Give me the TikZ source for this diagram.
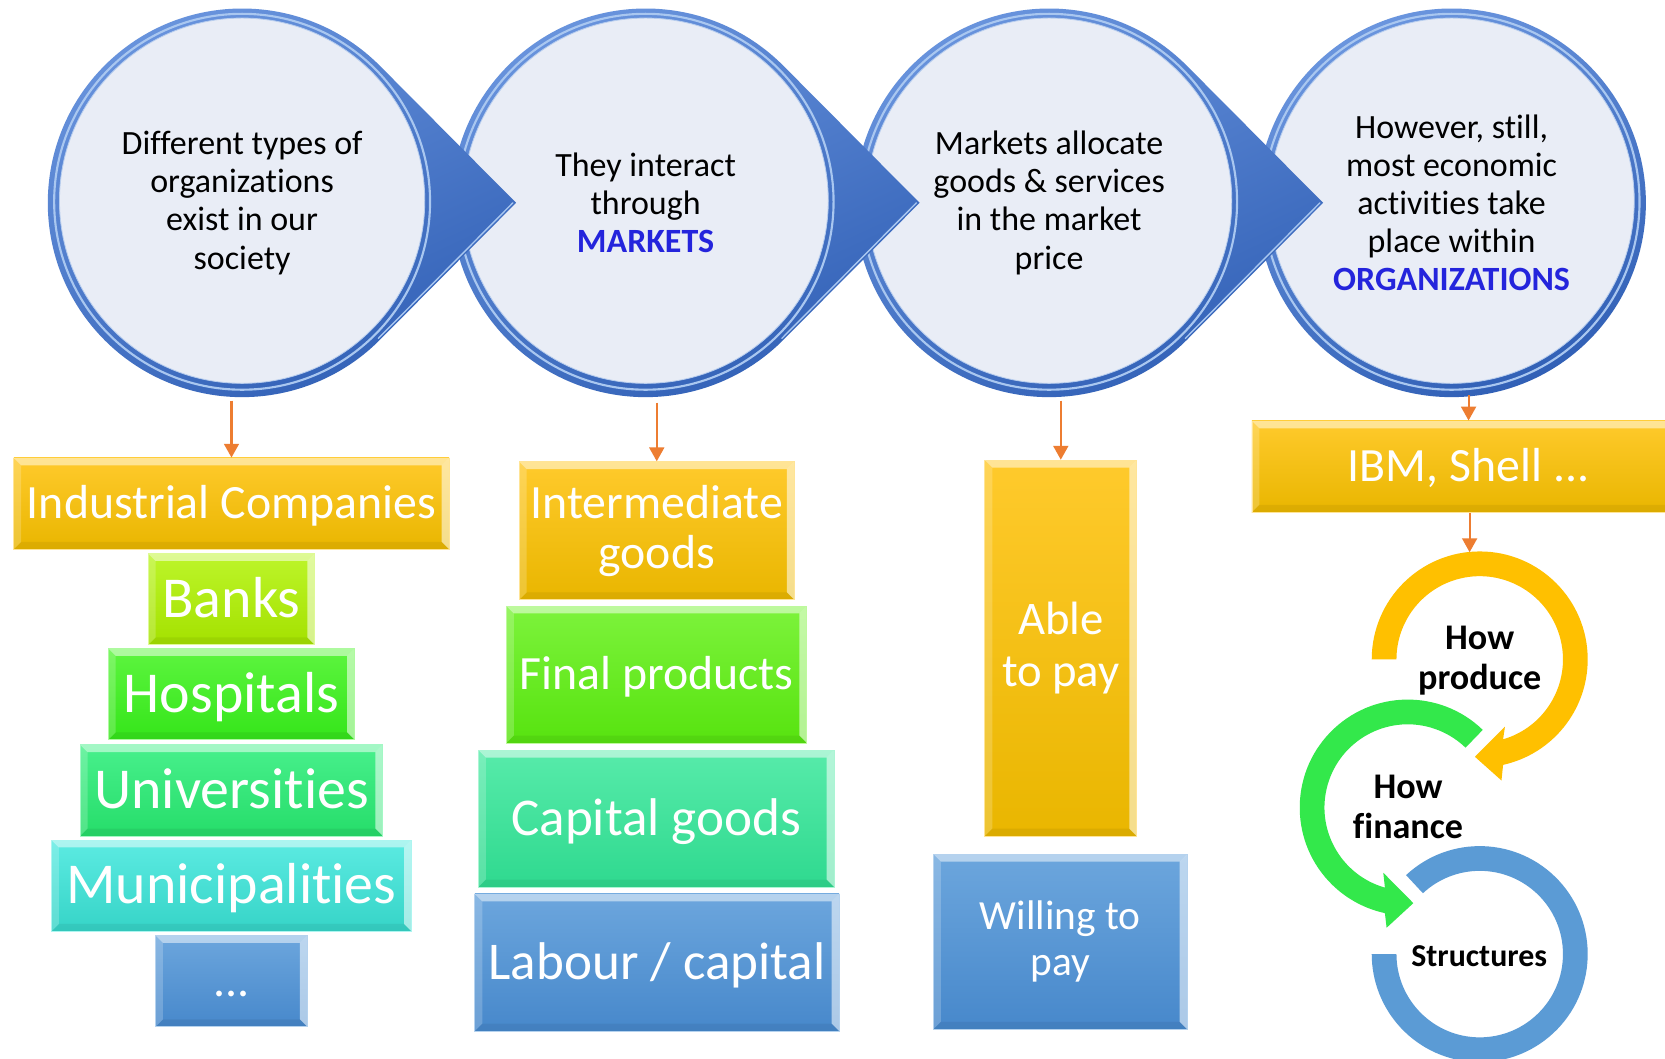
\documentclass[tikz,border=0pt]{standalone}
\usepackage{fontspec}
\setmainfont{Carlito}[Ligatures=NoCommon]
\usetikzlibrary{arrows.meta,calc}
\definecolor{kblue}{HTML}{2424DC}
\definecolor{ringA}{HTML}{6A95DE}
\definecolor{ringB}{HTML}{3160B6}
\definecolor{innerC}{HTML}{E9EDF6}
\definecolor{innerL}{HTML}{B7CDEE}
\definecolor{ringH}{HTML}{A9C7F0}
\definecolor{arrO}{HTML}{ED7D31}
\definecolor{oraT}{HTML}{FFCA2C}\definecolor{oraB}{HTML}{E9B600}
\definecolor{bnkT}{HTML}{BDF52A}\definecolor{bnkB}{HTML}{A4E100}
\definecolor{hosT}{HTML}{5DF53F}\definecolor{hosB}{HTML}{35E51A}
\definecolor{uniT}{HTML}{48F08C}\definecolor{uniB}{HTML}{26DD6A}
\definecolor{munT}{HTML}{5CEBE2}\definecolor{munB}{HTML}{36D4C7}
\definecolor{bluT}{HTML}{6CA6DD}\definecolor{bluB}{HTML}{4788CB}
\definecolor{finT}{HTML}{7DF33C}\definecolor{finB}{HTML}{57E30F}
\definecolor{capT}{HTML}{57EBAA}\definecolor{capB}{HTML}{2FD98F}
\definecolor{cycY}{HTML}{FFC000}
\definecolor{cycG}{HTML}{33E84B}
\definecolor{cycB}{HTML}{5B9BD5}
\newcommand\fsA{\fontsize{45}{47}\selectfont}
\newcommand\fsB{\fontsize{50}{52}\selectfont}
\newcommand\fsC{\fontsize{54.5}{56}\selectfont}
\newcommand\bubbleshape[2]{%
  \coordinate (bo) at (#1,191);
  \ifnum#2=1
    \shade[ringshade] ([shift={(258pt,0pt)}]bo) -- ([shift={(44.82:183pt)}]bo) arc[start angle=44.82,end angle=315.18,radius=183pt] -- cycle;
    \draw[ringH,line width=1.3pt,line cap=round] ([shift={(-44.82:181pt)}]bo) -- ([shift={(255pt,0pt)}]bo);
  \else
    \shade[ringshade] (bo) circle[radius=183pt];
  \fi
  \draw[ringH,line width=2pt] ([yshift=1pt]bo) circle[radius=177pt];
  \fill[innerC] ([yshift=2pt]bo) circle[radius=172pt];
  \draw[innerL,line width=0.8pt] ([yshift=2pt]bo) circle[radius=172pt];
}
\tikzset{
  ringshade/.style={top color=ringA,bottom color=ringB,shading angle=25},
  ctext/.style={circle,minimum size=366pt,inner sep=0pt,align=center,text=black,
    font=\fontsize{32}{36}\selectfont},
  bevbox/.style 2 args={rectangle,inner sep=0pt,top color=#1,bottom color=#2,
    draw=#1!50!white,line width=0.8pt,text=white,align=center,
    path picture={
      \fill[white,opacity=.5] (path picture bounding box.north west) -- (path picture bounding box.north east) -- ([shift={(-7pt,-7pt)}]path picture bounding box.north east) -- ([shift={(7pt,-7pt)}]path picture bounding box.north west) -- cycle;
      \fill[white,opacity=.55] (path picture bounding box.north east) -- (path picture bounding box.south east) -- ([shift={(-7pt,7pt)}]path picture bounding box.south east) -- ([shift={(-7pt,-7pt)}]path picture bounding box.north east) -- cycle;
      \fill[white,opacity=.2] (path picture bounding box.north west) -- ([shift={(7pt,-7pt)}]path picture bounding box.north west) -- ([shift={(7pt,7pt)}]path picture bounding box.south west) -- (path picture bounding box.south west) -- cycle;
      \fill[black,opacity=.06] (path picture bounding box.south west) -- ([shift={(7pt,7pt)}]path picture bounding box.south west) -- ([shift={(-7pt,7pt)}]path picture bounding box.south east) -- (path picture bounding box.south east) -- cycle;
    }},
  capA/.style={font=\fsA,text height=28.4pt,text depth=0pt},
  capB/.style={font=\fsB,text height=31.6pt,text depth=0pt},
  capC/.style={font=\fsC,text height=34.4pt,text depth=0pt},
  oarr/.style={draw=arrO,line width=2pt,-{Triangle[width=14pt,length=13pt]}},
  cyc/.style={align=center,inner sep=0pt,font=\fontsize{34}{38}\selectfont\bfseries,text=black},
}
\begin{document}
\begin{tikzpicture}[x=1pt,y=-1pt]
\clip (0,0) rectangle (1568,997);
\fill[white] (0,0) rectangle (1568,997);

% ---- bubbles (drawn right to left so pointers overlap next bubble)
\bubbleshape{1367}{0}
\node[ctext] (c4) at (1367,191) {However, still,\\most economic\\activities take\\place within\\{\bfseries\color{kblue}ORGANIZATIONS}};
\bubbleshape{988}{1}
\node[ctext] (c3) at (988,191) {Markets allocate\\goods \& services\\in the market\\price};
\bubbleshape{608}{1}
\node[ctext] (c2) at (608,191) {They interact\\through\\{\bfseries\color{kblue}MARKETS}};
\bubbleshape{228}{1}
\node[ctext] (c1) at (228,191) {Different types of\\organizations\\exist in our\\society};

% ---- column 1
\node[bevbox={oraT}{oraB},capA,minimum width=410pt,minimum height=86pt] (ind) at (218,474.3) {Industrial Companies};
\node[bevbox={bnkT}{bnkB},capC,minimum width=157pt,minimum height=86pt] (banks) at (218,564.3) {Banks};
\node[bevbox={hosT}{hosB},capC,minimum width=232pt,minimum height=86pt] (hosp) at (218,653.7) {Hospitals};
\node[bevbox={uniT}{uniB},capC,minimum width=285pt,minimum height=86pt] (univ) at (218,744.3) {Universities};
\node[bevbox={munT}{munB},capC,minimum width=339pt,minimum height=86pt] (muni) at (218,834.1) {Municipalities};
\node[bevbox={bluT}{bluB},capA,minimum width=143pt,minimum height=86pt] (dots) at (218,924) {...};

% ---- column 2
\node[bevbox={oraT}{oraB},font=\fontsize{45}{47}\selectfont,minimum width=259pt,minimum height=130pt] (inter) at (618.5,499.8) {Intermediate\\goods};
\node[bevbox={finT}{finB},capA,minimum width=283pt,minimum height=129pt] (final) at (618.4,635.2) {Final products};
\node[bevbox={capT}{capB},capB,minimum width=335pt,minimum height=129pt] (capital) at (618,770.9) {Capital goods};
\node[bevbox={bluT}{bluB},capB,minimum width=343pt,minimum height=129pt] (labour) at (618.7,906.4) {Labour / capital};

% ---- column 3
\node[bevbox={oraT}{oraB},font=\fontsize{44}{49.5}\selectfont,minimum width=143pt,minimum height=354pt] (able) at (999,610.3) {Able\\to pay};
\node[bevbox={bluT}{bluB},font=\fontsize{39}{42.8}\selectfont,minimum width=239pt,minimum height=165pt] (will) at (998.5,886.8) {Willing to\\pay};

% ---- column 4
\node[bevbox={oraT}{oraB},capA,minimum width=408pt,minimum height=86pt] (ibm) at (1383,439.4) {IBM, Shell ...};

% cycle arrows
\coordinate (Y) at (1393.5,621);
\coordinate (G) at (1325.7,760.5);
\coordinate (B) at (1393.5,898.5);
\fill[cycB] ([shift={(133:101.7pt)}]B) arc[start angle=133,end angle=-180,radius=101.7pt] -- ([shift={(180:78.4pt)}]B) arc[start angle=-180,end angle=133,radius=78.4pt] -- cycle;
\fill[cycG] ([shift={(46:101.7pt)}]G) arc[start angle=46,end angle=257.8,radius=101.7pt] -- (1305.8,873.7) -- (1331,850.5) -- (1302.7,821.9) -- ([shift={(254.1:78.4pt)}]G) arc[start angle=254.1,end angle=46,radius=78.4pt] -- cycle;
\fill[cycY] ([shift={(180:101.7pt)}]Y) arc[start angle=180,end angle=-77.5,radius=101.7pt] -- (1414,735) -- (1389,712.7) -- (1417.3,684.2) -- ([shift={(-73.7:78.4pt)}]Y) arc[start angle=-73.7,end angle=180,radius=78.4pt] -- cycle;
\node[cyc] (prod) at (1393.5,622) {How\\produce};
\node[cyc] (fin) at (1326,760) {How\\finance};
\node[cyc,font=\fontsize{30}{34}\selectfont\bfseries] (struc) at (1393,900) {Structures};
\coordinate (ytop) at (1384,520);

% ---- connectors
\draw[oarr] ($(ind.north |- c1.south)+(0,3)$) -- (ind.north);
\draw[oarr] ($(inter.north |- c2.south)+(0,5)$) -- (inter.north);
\draw[oarr] ($(able.north |- c3.south)+(0,3)$) -- (able.north);
\draw[oarr] ($(ibm.north |- c4.south)+(0,-2)$) -- (ibm.north);
\draw[oarr] (ibm.south -| ytop) -- (ytop);
\end{tikzpicture}
\end{document}
